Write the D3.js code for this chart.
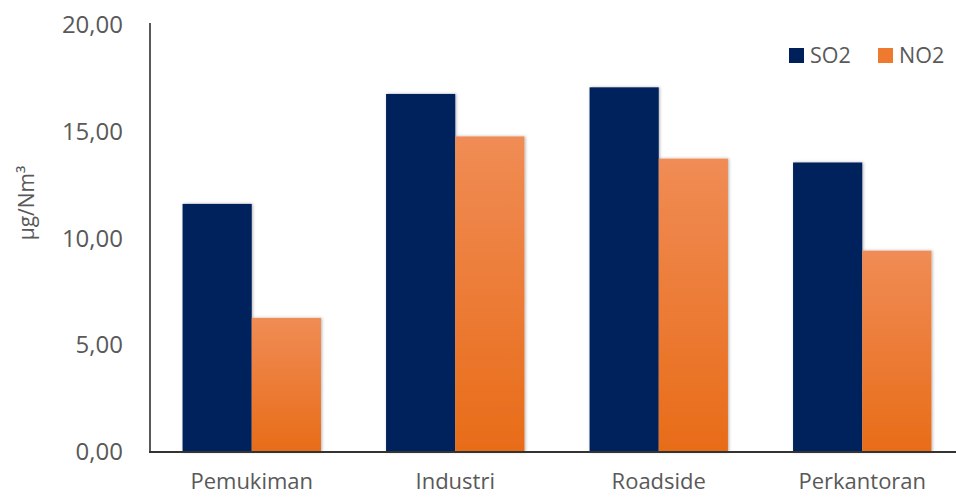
<!DOCTYPE html>
<html>
<head>
<meta charset="utf-8">
<script src="https://cdn.jsdelivr.net/npm/d3@7"></script>
<style>
  body { margin: 0; background: #fff; }
  text { font-family: "Open Sans", sans-serif; fill: #595959; }
</style>
</head>
<body>
<div id="chart"></div>
<script>
var categories = ["Pemukiman", "Industri", "Roadside", "Perkantoran"];
var seriesNames = ["SO2", "NO2"];
var so2 = [11.62, 16.77, 17.08, 13.56];
var no2 = [6.28, 14.78, 13.74, 9.43];
var yTicks = [0, 5, 10, 15, 20];

function init(){
    var w = 956;
    var h = 498;
    var left = 150, right = 964, top = 25, bottom = 452;

    var svg = d3.select("#chart")
                .append("svg")
                .attr("width", w)
                .attr("height", h);

    var defs = svg.append("defs");
    var grad = defs.append("linearGradient")
        .attr("id", "orangeGrad")
        .attr("x1", 0).attr("y1", 0).attr("x2", 0).attr("y2", 1);
    grad.append("stop").attr("offset", "0%").attr("stop-color", "#F08C55");
    grad.append("stop").attr("offset", "100%").attr("stop-color", "#E86C18");

    var shadow = defs.append("filter").attr("id", "shadow")
        .attr("x", "-10%").attr("y", "-5%").attr("width", "130%").attr("height", "110%");
    shadow.append("feDropShadow")
        .attr("dx", 1).attr("dy", 0).attr("stdDeviation", 1.5)
        .attr("flood-color", "#000").attr("flood-opacity", 0.3);

    var x0 = d3.scaleBand()
        .domain(categories)
        .range([left, right])
        .paddingInner(0.32)
        .paddingOuter(0.16);

    var x1 = d3.scaleBand()
        .domain(seriesNames)
        .range([0, x0.bandwidth()]);

    var y = d3.scaleLinear()
        .domain([0, 20])
        .range([bottom, top]);

    var colors = { "SO2": "#00205B", "NO2": "url(#orangeGrad)" };

    var rows = categories.map(function(c, i) {
        return { cat: c, values: [{ key: "SO2", v: so2[i] }, { key: "NO2", v: no2[i] }] };
    });

    var groups = svg.selectAll("g.grp")
        .data(rows)
        .enter()
        .append("g")
        .attr("class", "grp")
        .attr("transform", function(d) { return "translate(" + x0(d.cat) + ",0)"; });

    groups.selectAll("rect")
        .data(function(d) { return d.values; })
        .enter()
        .append("rect")
        .attr("x", function(d) { return x1(d.key); })
        .attr("y", function(d) { return y(d.v); })
        .attr("width", x1.bandwidth())
        .attr("height", function(d) { return bottom - y(d.v); })
        .attr("fill", function(d) { return colors[d.key]; })
        .attr("filter", "url(#shadow)");

    // y axis
    var yAxis = d3.axisLeft(y)
        .tickValues(yTicks)
        .tickSize(0)
        .tickPadding(27)
        .tickFormat(function(d) { return d3.format(".2f")(d).replace(".", ","); });

    var ya = svg.append("g")
        .attr("transform", "translate(" + left + ",0)")
        .call(yAxis);
    ya.select(".domain").attr("stroke", "#595959").attr("stroke-width", 2)
        .attr("d", "M0," + (top - 2) + "V" + bottom);
    ya.selectAll("text")
        .style("font-size", "24px")
        .style("font-family", "'Open Sans', sans-serif")
        .attr("fill", "#595959");

    // x axis
    var xAxis = d3.axisBottom(x0).tickSize(0).tickPadding(21);
    var xa = svg.append("g")
        .attr("transform", "translate(0," + bottom + ")")
        .call(xAxis);
    xa.select(".domain").attr("stroke", "#333").attr("stroke-width", 2)
        .attr("d", "M" + (left - 1) + ",0H" + w);
    xa.selectAll("text")
        .style("font-size", "22px")
        .style("font-family", "'Open Sans', sans-serif")
        .attr("fill", "#595959");

    // y title
    svg.append("text")
        .attr("transform", "translate(34,203) rotate(-90)")
        .attr("text-anchor", "middle")
        .style("font-size", "21px")
        .text("µg/Nm³");

    // legend
    var legend = svg.append("g");
    var lx = [789, 878];
    var legendColors = ["#00205B", "#EE7A30"];
    seriesNames.forEach(function(s, i) {
        legend.append("rect")
            .attr("x", lx[i]).attr("y", 48)
            .attr("width", 15).attr("height", 15)
            .attr("fill", legendColors[i]);
        legend.append("text")
            .attr("x", lx[i] + 21).attr("y", 63)
            .style("font-size", "21.5px")
            .text(s);
    });
}
window.onload = init;
</script>
</body>
</html>
